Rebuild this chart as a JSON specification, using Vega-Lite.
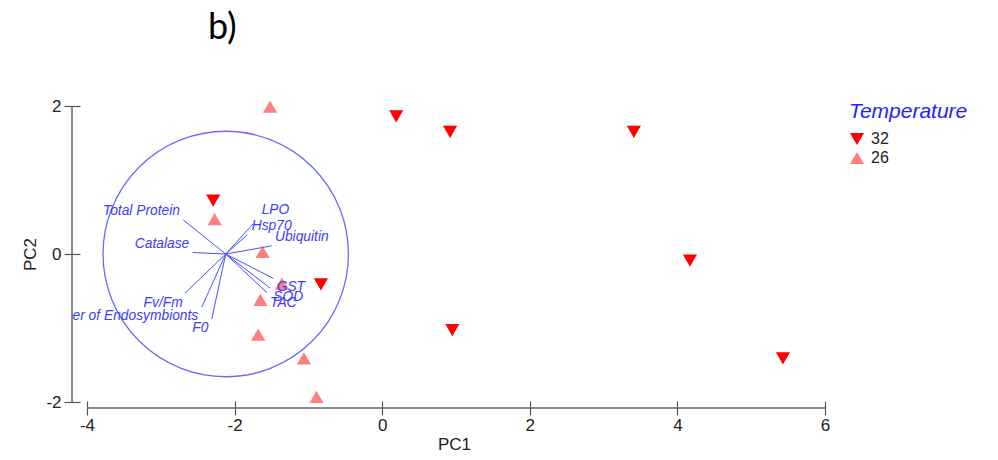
{
  "$schema": "https://vega.github.io/schema/vega-lite/v6.json",
  "width": 753,
  "height": 302,
  "autosize": {"type": "none"},
  "padding": {"left": 72, "top": 106, "right": 173, "bottom": 52},
  "background": "white",
  "title": {"text": "b)", "anchor": "start", "frame": "group", "dx": 136, "offset": 50, "font": "Lato", "fontSize": 36, "fontWeight": "normal", "color": "#000000"},
  "datasets": {
    "scores": [
      {"PC1": 0.19, "PC2": 1.86, "Temperature": "32"},
      {"PC1": 0.92, "PC2": 1.65, "Temperature": "32"},
      {"PC1": 3.41, "PC2": 1.65, "Temperature": "32"},
      {"PC1": 4.17, "PC2": -0.09, "Temperature": "32"},
      {"PC1": 0.95, "PC2": -1.03, "Temperature": "32"},
      {"PC1": 5.43, "PC2": -1.41, "Temperature": "32"},
      {"PC1": -0.83, "PC2": -0.41, "Temperature": "32"},
      {"PC1": -2.29, "PC2": 0.72, "Temperature": "32"},
      {"PC1": -1.52, "PC2": 1.99, "Temperature": "26"},
      {"PC1": -2.27, "PC2": 0.47, "Temperature": "26"},
      {"PC1": -1.62, "PC2": 0.03, "Temperature": "26"},
      {"PC1": -1.36, "PC2": -0.40, "Temperature": "26"},
      {"PC1": -1.65, "PC2": -0.62, "Temperature": "26"},
      {"PC1": -1.68, "PC2": -1.09, "Temperature": "26"},
      {"PC1": -1.06, "PC2": -1.41, "Temperature": "26"},
      {"PC1": -0.89, "PC2": -1.93, "Temperature": "26"}
    ],
    "vectors": [
      {"variable": "Total Protein", "cx": -2.12, "cy": 0, "x": -2.695, "y": 0.46, "lx": -2.74, "ly": 0.58},
      {"variable": "Catalase", "cx": -2.12, "cy": 0, "x": -2.568, "y": 0.02, "lx": -2.614, "ly": 0.135},
      {"variable": "LPO", "cx": -2.12, "cy": 0, "x": -1.747, "y": 0.41, "lx": -1.633, "ly": 0.595},
      {"variable": "Hsp70", "cx": -2.12, "cy": 0, "x": -1.828, "y": 0.26, "lx": -1.768, "ly": 0.378},
      {"variable": "Ubiquitin", "cx": -2.12, "cy": 0, "x": -1.497, "y": 0.11, "lx": -1.453, "ly": 0.225},
      {"variable": "GST", "cx": -2.12, "cy": 0, "x": -1.475, "y": -0.33, "lx": -1.43, "ly": -0.45},
      {"variable": "SOD", "cx": -2.12, "cy": 0, "x": -1.52, "y": -0.46, "lx": -1.475, "ly": -0.577},
      {"variable": "TAC", "cx": -2.12, "cy": 0, "x": -1.565, "y": -0.52, "lx": -1.52, "ly": -0.667},
      {"variable": "Fv/Fm", "cx": -2.12, "cy": 0, "x": -2.672, "y": -0.53, "lx": -2.703, "ly": -0.667},
      {"variable": "Number of Endosymbionts", "cx": -2.12, "cy": 0, "x": -2.446, "y": -0.72, "lx": -2.492, "ly": -0.838},
      {"variable": "F0", "cx": -2.12, "cy": 0, "x": -2.31, "y": -0.88, "lx": -2.356, "ly": -1.004}
    ]
  },
  "layer": [
    {
      "data": {"name": "scores"},
      "mark": {"type": "point", "filled": true, "opacity": 1, "size": 200},
      "encoding": {
        "x": {"field": "PC1", "type": "quantitative", "title": "PC1", "scale": {"domain": [-4.203, 6], "nice": false, "zero": false}, "axis": {"values": [-4, -2, 0, 2, 4, 6], "labelExpr": "'' + datum.value"}},
        "y": {"field": "PC2", "type": "quantitative", "title": "PC2", "scale": {"domain": [-2.081, 2], "nice": false, "zero": false}, "axis": {"values": [-2, 0, 2], "labelExpr": "'' + datum.value"}},
        "color": {"field": "Temperature", "type": "nominal", "title": "Temperature", "scale": {"domain": ["32", "26"], "range": ["#ff0000", "#ff7f7f"]}, "legend": {"orient": "none", "legendX": 777, "legendY": -5}},
        "shape": {"field": "Temperature", "type": "nominal", "title": "Temperature", "scale": {"domain": ["32", "26"], "range": ["triangle-down", "triangle-up"]}, "legend": {"orient": "none", "legendX": 777, "legendY": -5}}
      }
    },
    {
      "data": {"values": [{}]},
      "mark": {"type": "point", "shape": "circle", "filled": false, "size": 60221, "stroke": "#6a6aff", "strokeWidth": 1.3, "opacity": 1},
      "encoding": {
        "x": {"datum": -2.12, "type": "quantitative"},
        "y": {"datum": 0, "type": "quantitative"}
      }
    },
    {
      "data": {"name": "vectors"},
      "mark": {"type": "rule", "color": "#4d4dff", "strokeWidth": 1},
      "encoding": {
        "x": {"field": "cx", "type": "quantitative", "title": "PC1"},
        "y": {"field": "cy", "type": "quantitative", "title": "PC2"},
        "x2": {"field": "x"},
        "y2": {"field": "y"}
      }
    },
    {
      "data": {"name": "vectors"},
      "transform": [{"filter": "datum.lx < -2.12"}],
      "mark": {"type": "text", "align": "right", "baseline": "middle", "font": "Liberation Sans", "fontStyle": "italic", "fontSize": 13.8, "color": "#3c3cff", "clip": true},
      "encoding": {
        "x": {"field": "lx", "type": "quantitative", "title": "PC1"},
        "y": {"field": "ly", "type": "quantitative", "title": "PC2"},
        "text": {"field": "variable"}
      }
    },
    {
      "data": {"name": "vectors"},
      "transform": [{"filter": "datum.lx >= -2.12"}],
      "mark": {"type": "text", "align": "left", "baseline": "middle", "font": "Liberation Sans", "fontStyle": "italic", "fontSize": 13.8, "color": "#3c3cff"},
      "encoding": {
        "x": {"field": "lx", "type": "quantitative", "title": "PC1"},
        "y": {"field": "ly", "type": "quantitative", "title": "PC2"},
        "text": {"field": "variable"}
      }
    },
    {
      "data": {"values": [{}]},
      "mark": {"type": "rule", "color": "#666666", "strokeWidth": 1.5},
      "encoding": {
        "x": {"datum": -4, "type": "quantitative"},
        "x2": {"datum": 6},
        "y": {"datum": -2.081, "type": "quantitative"}
      }
    },
    {
      "data": {"values": [{}]},
      "mark": {"type": "rule", "color": "#666666", "strokeWidth": 1.5},
      "encoding": {
        "x": {"datum": -4.203, "type": "quantitative"},
        "y": {"datum": -2, "type": "quantitative"},
        "y2": {"datum": 2}
      }
    }
  ],
  "config": {
    "view": {"stroke": null},
    "font": "Liberation Sans",
    "axis": {"grid": false, "domain": false, "labelFlush": false, "labelOverlap": false, "labelFont": "Liberation Sans", "labelFontSize": 17, "labelColor": "#222222", "titleFont": "Liberation Sans", "titleFontSize": 17, "titleFontWeight": "normal", "titleColor": "#222222", "tickColor": "#555555", "tickWidth": 1.2},
    "axisX": {"offset": -7, "tickSize": 14, "labelPadding": 2, "titlePadding": 3, "titleX": 382},
    "axisY": {"offset": -8, "tickSize": 16, "labelPadding": 3, "titlePadding": 6, "titleY": 148},
    "legend": {"titleFont": "Liberation Sans", "titleFontSize": 21, "titleFontStyle": "italic", "titleFontWeight": "normal", "titleColor": "#2323ff", "titlePadding": 9, "labelFont": "Liberation Sans", "labelFontSize": 16, "labelColor": "#222222", "symbolSize": 200, "rowPadding": 3, "labelOffset": 6, "padding": 0, "symbolStrokeWidth": 0}
  }
}
